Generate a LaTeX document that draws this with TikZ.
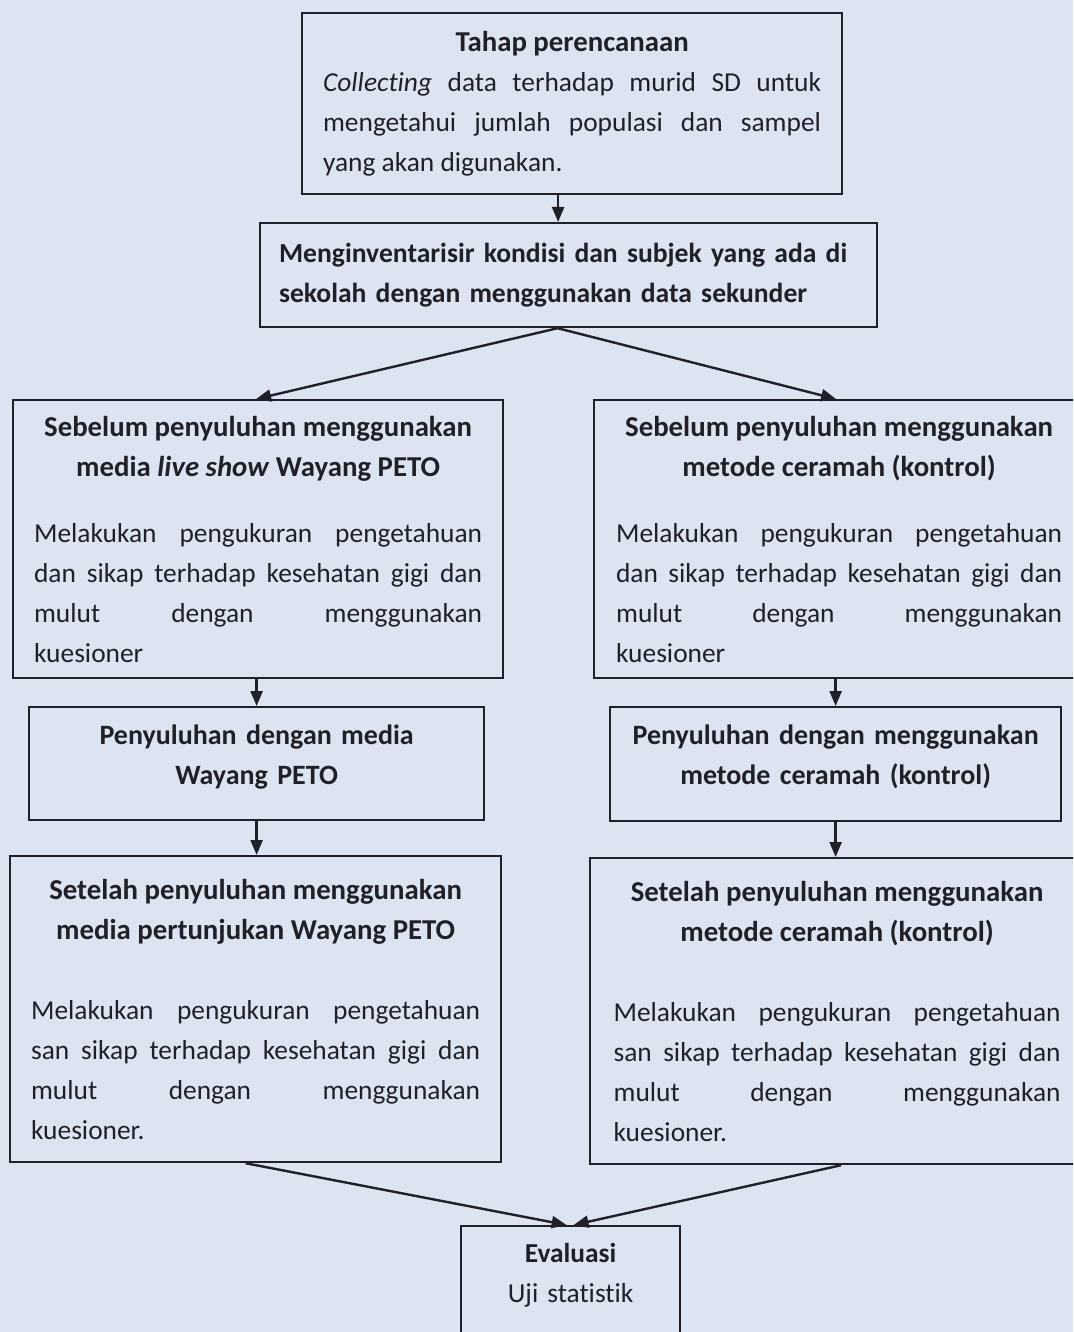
\documentclass[tikz,border=0pt]{standalone}
\usepackage{fontspec}
\setmainfont{Carlito}[Ligatures=NoCommon]
\usetikzlibrary{positioning, arrows.meta}
\definecolor{kertas}{RGB}{221,228,241}
\definecolor{tinta}{RGB}{32,32,40}
\tolerance=10000
\hbadness=10000
\hyphenpenalty=10000
\newcommand{\kepala}[1]{{\centering\fontsize{28.8}{40}\selectfont\bfseries #1\par}}

\begin{document}
\begin{tikzpicture}[
				x=1pt, y=-1pt,
				kotak/.style={draw=tinta, line width=2.2pt, anchor=north west, inner xsep=21pt, inner ysep=0pt,
					align=justify, text=tinta, font=\fontsize{27.4}{40}\selectfont},
				judul/.style={kotak, align=center, font=\fontsize{28}{40}\selectfont\bfseries},
				panah/.style={draw=tinta, line width=2.4pt, -{Triangle[length=15pt,width=12pt]}}
				]
				\clip (0,0) rectangle (1073,1332);
				\fill[kertas] (0,0) rectangle (1073,1332);
				\node[kotak, minimum width=538pt, minimum height=181pt, text width=498pt] (tahap) at (301,12)
				{\kepala{Tahap perencanaan}
					\textit{Collecting} data terhadap murid SD untuk\linebreak
					mengetahui jumlah populasi dan sampel\linebreak
					yang akan digunakan.};
				\node[kotak, align=left, font=\fontsize{27.6}{40}\selectfont\bfseries, minimum width=617pt, minimum height=104pt,
					inner xsep=19pt, text width=579pt] (inventaris) at (259,222)
				{Menginventarisir kondisi dan subjek yang ada di\\sekolah dengan menggunakan data sekunder};
				\node[kotak, minimum width=490pt, minimum height=278pt, text width=448pt] (sebelumA) at (12,399)
				{\kepala{Sebelum penyuluhan menggunakan\\media \textit{live show} Wayang PETO}
					\vspace{26pt}
					Melakukan pengukuran pengetahuan\linebreak
					dan sikap terhadap kesehatan gigi dan\linebreak
					mulut dengan menggunakan\linebreak
					kuesioner};
				\node[kotak, minimum width=490pt, minimum height=278pt, text width=446pt] (sebelumB) at (593,399)
				{\kepala{Sebelum penyuluhan menggunakan\\metode ceramah (kontrol)}
					\vspace{26pt}
					Melakukan pengukuran pengetahuan\linebreak
					dan sikap terhadap kesehatan gigi dan\linebreak
					mulut dengan menggunakan\linebreak
					kuesioner};
				\node[judul, minimum width=455pt, minimum height=113pt, text width=413pt] (penyuluhanA) at (28,706)
				{Penyuluhan dengan media\\Wayang PETO\par\vspace{14pt}};
				\node[judul, minimum width=451pt, minimum height=114pt, text width=409pt] (penyuluhanB) at (609,706)
				{Penyuluhan dengan menggunakan\\metode ceramah (kontrol)\par\vspace{14pt}};
				\node[kotak, minimum width=491pt, minimum height=306pt, text width=449pt] (setelahA) at (9,855)
				{\kepala{Setelah penyuluhan menggunakan\\media pertunjukan Wayang PETO}
					\vspace{40pt}
					Melakukan pengukuran pengetahuan\linebreak
					san sikap terhadap kesehatan gigi dan\linebreak
					mulut dengan menggunakan\linebreak
					kuesioner.};
				\node[kotak, minimum width=494pt, minimum height=306pt, text width=447pt] (setelahB) at (589,857)
				{\kepala{Setelah penyuluhan menggunakan\\metode ceramah (kontrol)}
					\vspace{40pt}
					Melakukan pengukuran pengetahuan\linebreak
					san sikap terhadap kesehatan gigi dan\linebreak
					mulut dengan menggunakan\linebreak
					kuesioner.};
				\node[kotak, align=center, minimum width=219pt, inner ysep=17pt, text width=177pt] (evaluasi) at (460,1225)
				{\textbf{Evaluasi}\\Uji statistik\\~\\~};
				\draw[panah] ([xshift=-14pt]tahap.south) -- ([xshift=-14pt]tahap.south |- inventaris.north);
				\draw[panah] ([xshift=-11pt]inventaris.south) -- ([xshift=-2pt]sebelumA.north);
				\draw[panah] ([xshift=-11pt]inventaris.south) -- ([xshift=-3pt]sebelumB.north);
				\draw[panah] (penyuluhanA.north |- sebelumA.south) -- (penyuluhanA.north);
				\draw[panah] (penyuluhanB.north |- sebelumB.south) -- (penyuluhanB.north);
				\draw[panah] (penyuluhanA.south) -- (penyuluhanA.south |- setelahA.north);
				\draw[panah] (penyuluhanB.south) -- (penyuluhanB.south |- setelahB.north);
				\draw[panah] ([xshift=-10pt]setelahA.south) -- ([xshift=-4pt]evaluasi.north);
				\draw[panah] ([xshift=4pt]setelahB.south) -- ([xshift=3pt]evaluasi.north);
			\end{tikzpicture}
\end{document}
